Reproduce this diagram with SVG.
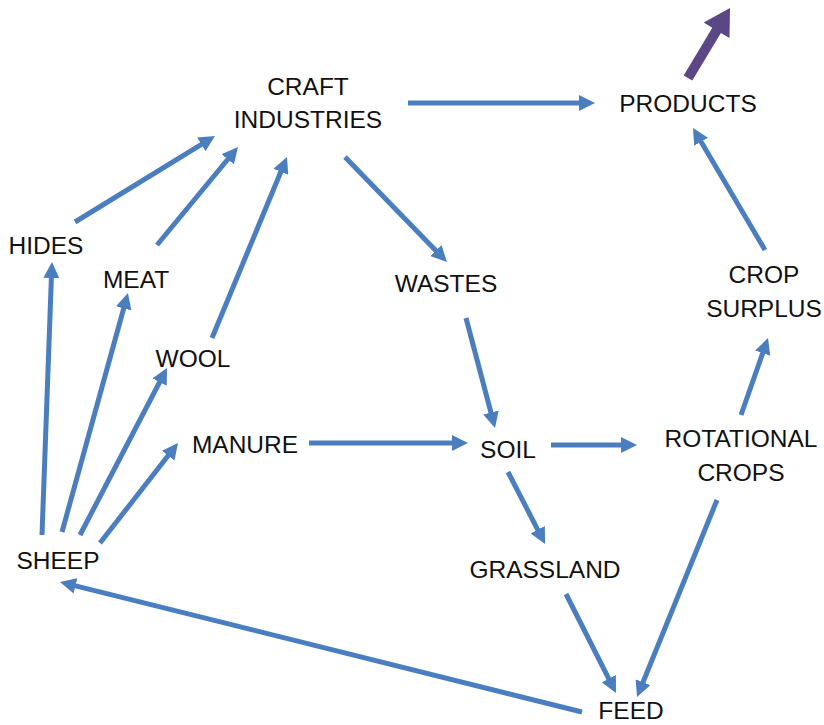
<svg xmlns="http://www.w3.org/2000/svg" width="824" height="725" viewBox="0 0 824 725">
  <style>
    .lbl { font-family: "Liberation Sans", Arial, sans-serif; font-size: 24.5px; fill: #111; text-anchor: middle; }
    .edge { stroke: #4a7ebf; stroke-width: 5; fill: none; marker-end: url(#head); }
  </style>
  <defs>
    <marker id="head" viewBox="0 0 16 16" markerUnits="userSpaceOnUse" markerWidth="16" markerHeight="16" refX="3" refY="8" orient="auto">
      <path d="M0,0 L16,8 L0,16 z" fill="#4a7ebf"/>
    </marker>
  </defs>
  <rect width="824" height="725" fill="#fff"/>

  <g id="connectors">
    <line class="edge" x1="408" y1="103" x2="582" y2="103"/>
    <line class="edge" x1="765" y1="250" x2="699.6" y2="139.2"/>
    <line class="edge" x1="741" y1="415" x2="763.7" y2="350.3"/>
    <line class="edge" x1="345" y1="157" x2="437.9" y2="252.7"/>
    <line class="edge" x1="466" y1="318" x2="491.7" y2="415.4"/>
    <line class="edge" x1="309" y1="443" x2="455" y2="443"/>
    <line class="edge" x1="551" y1="445" x2="624" y2="445"/>
    <line class="edge" x1="508" y1="472" x2="539.1" y2="532.4"/>
    <line class="edge" x1="566" y1="594" x2="610.1" y2="681.4"/>
    <line class="edge" x1="717" y1="500" x2="641.9" y2="685"/>
    <line class="edge" x1="582" y1="712" x2="72.6" y2="585.1"/>
    <line class="edge" x1="42" y1="535" x2="51.5" y2="275"/>
    <line class="edge" x1="62" y1="532" x2="124.5" y2="305.5"/>
    <line class="edge" x1="80" y1="535" x2="161" y2="379.5"/>
    <line class="edge" x1="100" y1="543" x2="170" y2="453.3"/>
    <line class="edge" x1="75" y1="222" x2="203.9" y2="142.8"/>
    <line class="edge" x1="157" y1="245" x2="229.7" y2="157"/>
    <line class="edge" x1="212" y1="338" x2="282" y2="169"/>
    <!-- outgoing product flow -->
    <polygon points="692.3,80.6 720.9,32.9 729.5,38 730,8 703.7,22.6 712.3,27.7 683.7,75.4" fill="#5b4785"/>
  </g>

  <g id="craft"><text class="lbl" x="308" y="95">CRAFT</text><text class="lbl" x="308" y="128">INDUSTRIES</text></g>
  <g id="products"><text class="lbl" x="688" y="112">PRODUCTS</text></g>
  <g id="hides"><text class="lbl" x="46" y="254">HIDES</text></g>
  <g id="meat"><text class="lbl" x="136" y="288">MEAT</text></g>
  <g id="wool"><text class="lbl" x="193" y="367">WOOL</text></g>
  <g id="wastes"><text class="lbl" x="446" y="292">WASTES</text></g>
  <g id="surplus"><text class="lbl" x="764" y="283">CROP</text><text class="lbl" x="764" y="317">SURPLUS</text></g>
  <g id="manure"><text class="lbl" x="245" y="453">MANURE</text></g>
  <g id="soil"><text class="lbl" x="508" y="458">SOIL</text></g>
  <g id="rotational"><text class="lbl" x="741" y="447">ROTATIONAL</text><text class="lbl" x="741" y="481">CROPS</text></g>
  <g id="sheep"><text class="lbl" x="58" y="569">SHEEP</text></g>
  <g id="grassland"><text class="lbl" x="545" y="578">GRASSLAND</text></g>
  <g id="feed"><text class="lbl" x="631" y="719">FEED</text></g>
</svg>
